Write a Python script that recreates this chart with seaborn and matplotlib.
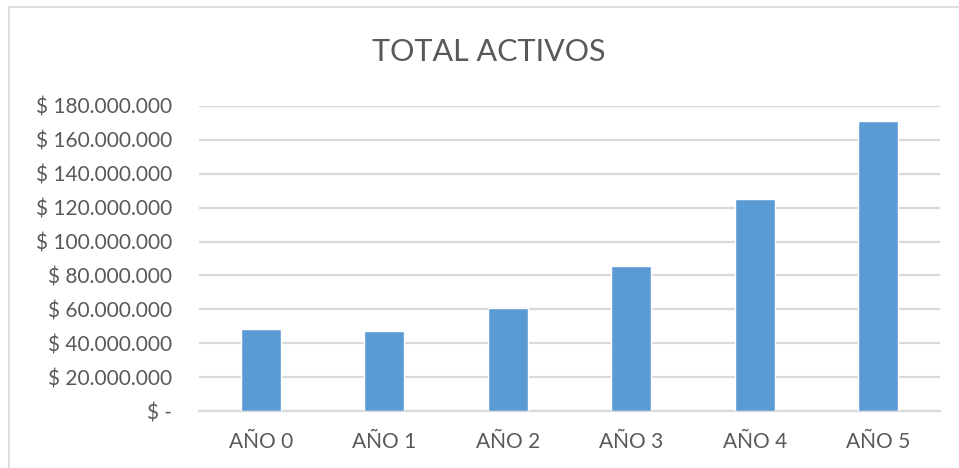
import matplotlib
matplotlib.use("Agg")
import matplotlib.pyplot as plt
import seaborn as sns
import pandas as pd
from matplotlib.ticker import FuncFormatter
from matplotlib.patches import Rectangle

categories = ["AÑO 0", "AÑO 1", "AÑO 2", "AÑO 3", "AÑO 4", "AÑO 5"]
values = [48200000, 47000000, 60600000, 85600000, 124900000, 171200000]
yticks = [0, 20000000, 40000000, 60000000, 80000000, 100000000, 120000000, 140000000, 160000000, 180000000]
title = "TOTAL ACTIVOS"

sns.set_theme(style="white")
plt.rcParams['font.family'] = ['Lato', 'DejaVu Sans']

df = pd.DataFrame({"cat": categories, "val": values})

fig = plt.figure(figsize=(9.59, 4.68), dpi=100)
ax = fig.add_axes([199/959, 1 - 411/468, (940-199)/959, (411-106)/468])

sns.barplot(data=df, x="cat", y="val", color="#5b9bd5", saturation=1, width=0.32, ax=ax, zorder=3)

ax.set_ylim(0, 180000000)
ax.set_yticks(yticks)

def fmt(v, pos):
    if v == 0:
        return "$ -"
    return "$ " + f"{int(v):,}".replace(",", ".")

ax.yaxis.set_major_formatter(FuncFormatter(fmt))
ax.grid(axis="y", color="#d9d9d9", linewidth=1.6, zorder=0)
ax.set_axisbelow(True)
for s in ["top", "right", "left"]:
    ax.spines[s].set_visible(False)
ax.spines["bottom"].set_color("#d9d9d9")
ax.spines["bottom"].set_linewidth(1.6)
ax.tick_params(axis="y", length=0, pad=19.5, labelsize=15, labelcolor="#595959")
ax.tick_params(axis="x", length=0, pad=15, labelsize=15, labelcolor="#595959")
ax.set_xlabel("")
ax.set_ylabel("")

fig.text(489/959, 1 - 52/468, title, ha="center", va="center", fontsize=22, color="#595959")

fig.patches.append(Rectangle((9/959, -0.01), 1.0, 1 - 7/468 + 0.01, transform=fig.transFigure,
                             fill=False, edgecolor="#d9d9d9", linewidth=1.2))

fig.savefig("out.png", dpi=100)
